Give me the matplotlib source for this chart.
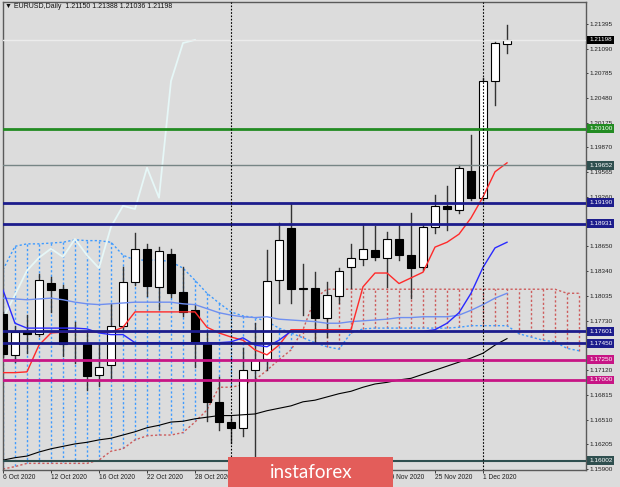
import numpy as np
import matplotlib
matplotlib.use("Agg")
import matplotlib.pyplot as plt
from matplotlib.patches import Rectangle
from matplotlib.transforms import blended_transform_factory

plt.rcParams['font.family'] = ['Liberation Sans', 'DejaVu Sans']

# EURUSD daily, 6 Oct 2020 .. 3 Dec 2020 (bar 0 = 6 Oct)
opens = [1.1781, 1.1731, 1.1759, 1.1757, 1.1820, 1.1812, 1.1745, 1.1744, 1.1706, 1.1718,
         1.1767, 1.1821, 1.1862, 1.1815, 1.1855, 1.1809, 1.1786, 1.1746, 1.1673, 1.1648,
         1.1641, 1.1712, 1.1726, 1.1823, 1.1888, 1.1812, 1.1814, 1.1776, 1.1804, 1.1839,
         1.1849, 1.1860, 1.1851, 1.1874, 1.1854, 1.1839, 1.1889, 1.1915, 1.1910, 1.1958,
         1.1925, 1.2069, 1.21150]
highs = [1.1784, 1.1767, 1.1780, 1.1831, 1.1827, 1.1817, 1.1772, 1.1758, 1.1744, 1.1794,
         1.1839, 1.1881, 1.1868, 1.1864, 1.1862, 1.1839, 1.1793, 1.1759, 1.1704, 1.1654,
         1.1739, 1.1770, 1.1860, 1.1894, 1.1919, 1.1843, 1.1833, 1.1821, 1.1838, 1.1868,
         1.1893, 1.1890, 1.1883, 1.1891, 1.1906, 1.1891, 1.1928, 1.1940, 1.1965, 1.2002,
         1.2073, 1.2117, 1.21388]
lows = [1.1728, 1.1722, 1.1733, 1.1754, 1.1784, 1.1730, 1.1721, 1.1688, 1.1692, 1.1702,
        1.1762, 1.1817, 1.1804, 1.1788, 1.1802, 1.1779, 1.1716, 1.1649, 1.1638, 1.1622,
        1.1631, 1.1605, 1.1712, 1.1795, 1.1795, 1.1780, 1.1746, 1.1753, 1.1795, 1.1814,
        1.1842, 1.1848, 1.1815, 1.1848, 1.1801, 1.1836, 1.1881, 1.1885, 1.1906, 1.1922,
        1.1922, 1.2040, 1.21036]
closes = [1.1732, 1.1759, 1.1757, 1.1823, 1.1811, 1.1744, 1.1746, 1.1705, 1.1716, 1.1767,
          1.1821, 1.1862, 1.1816, 1.1859, 1.1807, 1.1784, 1.1746, 1.1673, 1.1648, 1.1641,
          1.1712, 1.1725, 1.1822, 1.1873, 1.1812, 1.1814, 1.1776, 1.1805, 1.1835, 1.1851,
          1.1862, 1.1852, 1.1874, 1.1854, 1.1838, 1.1889, 1.1915, 1.1911, 1.1962, 1.1925,
          1.2069, 1.2116, 1.21198]

# Ichimoku lines
tenkan = [1.1709, 1.1709, 1.1710, 1.1743, 1.1758, 1.1759, 1.1759, 1.1759, 1.1759, 1.1759,
          1.1765, 1.1784, 1.1784, 1.1784, 1.1784, 1.1784, 1.1784, 1.1765, 1.1758, 1.1753,
          1.1749, 1.1737, 1.1731, 1.1743, 1.1762, 1.1762, 1.1762, 1.1762, 1.1762, 1.1762,
          1.1815, 1.1832, 1.1832, 1.1819, 1.1826, 1.1833, 1.1864, 1.1870, 1.1880, 1.1900,
          1.1926, 1.1957, 1.1968]
kijun = [1.1811, 1.1770, 1.1764, 1.1764, 1.1764, 1.1764, 1.1764, 1.1763, 1.1758, 1.1756,
         1.1756, 1.1746, 1.1746, 1.1746, 1.1746, 1.1746, 1.1746, 1.1746, 1.1746, 1.1747,
         1.1752, 1.1743, 1.1741, 1.1749, 1.1760, 1.1760, 1.1760, 1.1760, 1.1760, 1.1760,
         1.1760, 1.1760, 1.1760, 1.1760, 1.1760, 1.1760, 1.1762, 1.1770, 1.1783, 1.1807,
         1.1839, 1.1863, 1.1870]
span_a = [1.1836, 1.1865, 1.1868, 1.1868, 1.1869, 1.1870, 1.1873, 1.1872, 1.1872, 1.1870,
          1.1854, 1.1848, 1.1848, 1.1848, 1.1846, 1.1838, 1.1823, 1.1807, 1.1795, 1.1784,
          1.1779, 1.1777, 1.1772, 1.1764, 1.1758, 1.1752, 1.1746, 1.1741, 1.1738, 1.1758,
          1.1763, 1.1764, 1.1764, 1.1764, 1.1764, 1.1764, 1.1764, 1.1764, 1.1765, 1.1767,
          1.1767, 1.1767, 1.1767, 1.1757, 1.1753, 1.1749, 1.1747, 1.1739, 1.1736]
span_b = [1.1590, 1.1593, 1.1597, 1.1597, 1.1597, 1.1597, 1.1597, 1.1597, 1.1601, 1.1612,
          1.1615, 1.1626, 1.1631, 1.1632, 1.1632, 1.1635, 1.1648, 1.1663, 1.1691, 1.1691,
          1.1694, 1.1700, 1.1712, 1.1725, 1.1737, 1.1762, 1.1801, 1.1812, 1.1812, 1.1812,
          1.1812, 1.1812, 1.1812, 1.1812, 1.1812, 1.1812, 1.1812, 1.1812, 1.1812, 1.1812,
          1.1812, 1.1812, 1.1812, 1.1812, 1.1812, 1.1812, 1.1812, 1.1807, 1.1807]

# moving averages
ma_light = [1.1801, 1.1800, 1.1799, 1.1800, 1.1801, 1.1799, 1.1796, 1.1794, 1.1793, 1.1794,
            1.1795, 1.1796, 1.1796, 1.1796, 1.1796, 1.1794, 1.1793, 1.1788, 1.1783, 1.1780,
            1.1778, 1.1777, 1.1778, 1.1775, 1.1774, 1.1773, 1.1772, 1.1770, 1.1770, 1.1772,
            1.1773, 1.1774, 1.1775, 1.1777, 1.1777, 1.1778, 1.1778, 1.1778, 1.1780, 1.1786,
            1.1793, 1.1801, 1.1807]
ma_black = [1.1601, 1.1604, 1.1606, 1.1611, 1.1615, 1.1618, 1.1621, 1.1623, 1.1626, 1.1628,
            1.1632, 1.1636, 1.1641, 1.1644, 1.1648, 1.1649, 1.1652, 1.1654, 1.1656, 1.1656,
            1.1657, 1.1658, 1.1662, 1.1665, 1.1668, 1.1673, 1.1675, 1.1679, 1.1683, 1.1686,
            1.1691, 1.1695, 1.1697, 1.1700, 1.1702, 1.1707, 1.1712, 1.1717, 1.1722, 1.1727,
            1.1733, 1.1743, 1.1751]

# horizontal levels and price scale
levels = [1.20100, 1.19652, 1.19190, 1.18931, 1.17601, 1.17450, 1.17250, 1.17000, 1.16002]
bid = 1.21198
price_ticks = [1.21395, 1.21090, 1.20785, 1.20480, 1.20175, 1.19870, 1.19565, 1.19260,
               1.18650, 1.18340, 1.18035, 1.17730, 1.17120, 1.16815,
               1.16510, 1.16205, 1.15900]
date_pos = [0, 4, 8, 12, 16, 32, 36, 40]
date_labels = ['6 Oct 2020', '12 Oct 2020', '16 Oct 2020', '22 Oct 2020', '28 Oct 2020',
               '19 Nov 2020', '25 Nov 2020', '1 Dec 2020']
month_starts = [19, 40]

# styles
BG = '#dcdcdc'
CLOUD_BLUE = '#3f9bff'
CLOUD_RED = '#cd5c5c'
NAVY = '#1c1c8c'
MVR = '#c71585'
DSG = '#2f4f4f'
level_colors = ['#228b22', '#768585', NAVY, NAVY, NAVY, NAVY, MVR, MVR, DSG]
level_widths = [2, 1, 2, 2, 2, 2, 2, 2, 1.5]
label_colors = ['#228b22', DSG, NAVY, NAVY, NAVY, NAVY, MVR, MVR, DSG]

W, H = 620, 487
fig = plt.figure(figsize=(W / 100, H / 100), dpi=100)
fig.patch.set_facecolor(BG)
ax = fig.add_axes([2.5 / W, 1 - 470 / H, 583 / W, 467.5 / H])
ax.set_facecolor(BG)
ax.set_xlim(-0.04, 48.54)
ax.set_ylim(1.15888, 1.21660)

dash = (0, (1.6, 1.6))

# kumo as dotted verticals
for i in range(len(span_a)):
    a, b = span_a[i], span_b[i]
    ax.plot([i, i], [a, b], color=CLOUD_BLUE if a > b else CLOUD_RED,
            lw=1.0, ls=dash, zorder=2, solid_capstyle='butt', dash_capstyle='butt')
xs = np.arange(len(span_a))
ax.plot(xs, span_a, color=CLOUD_BLUE, lw=1.0, ls=dash, zorder=2)
ax.plot(xs, span_b, color=CLOUD_RED, lw=1.0, ls=dash, zorder=2)

# chikou = close shifted back 26 bars
ax.plot(np.arange(-1, len(closes) - 26), closes[25:], color='#e6f7f7', lw=1.3, zorder=2.5)

# candles
for i in range(len(closes)):
    o, hi, lo, c = opens[i], highs[i], lows[i], closes[i]
    ax.plot([i, i], [lo, hi], color='#333333', lw=1, zorder=3)
    ax.add_patch(Rectangle((i - 0.31, min(o, c)), 0.62, max(abs(c - o), 0.00004),
                           facecolor='white' if c >= o else 'black',
                           edgecolor='black', lw=0.8, zorder=3.1))

x = np.arange(len(closes))
ax.plot(x, ma_black, color='black', lw=0.8, zorder=4)
ax.plot(x, ma_light, color='#6f8ff0', lw=1, zorder=4)
ax.plot(x, tenkan, color='#ff2a2a', lw=1, zorder=4)
ax.plot(x, kijun, color='#2a2aff', lw=1, zorder=4)

# levels
ax.axhline(bid, color='#ececec', lw=1, zorder=4.5)
for lv, col, lw in zip(levels, level_colors, level_widths):
    ax.axhline(lv, color=col, lw=lw, zorder=5)
for m in month_starts:
    ax.axvline(m, color='black', lw=0.8, ls=(0, (1.5, 1.5)), zorder=5)

# axes look
for s in ax.spines.values():
    s.set_color('#5a5a5a')
    s.set_linewidth(1)
ax.yaxis.tick_right()
ax.set_yticks(price_ticks)
ax.set_yticklabels([f'{v:.5f}' for v in price_ticks])
ax.tick_params(axis='y', direction='out', length=1.5, width=0.6, pad=1.5,
               labelsize=4.6, colors='#202020')
ax.set_xticks(date_pos)
ax.set_xticklabels(date_labels, ha='left')
ax.tick_params(axis='x', direction='out', length=2, width=0.6, pad=1,
               labelsize=4.8, colors='#202020')

# price boxes on the scale
tr = blended_transform_factory(ax.transAxes, ax.transData)
lx = 1 + 3.5 / 583
ax.text(lx, bid, f'{bid:.5f}', transform=tr, ha='left', va='center', fontsize=4.6,
        color='white', clip_on=False, zorder=6,
        bbox=dict(boxstyle='square,pad=0.3', fc='black', ec='none'))
for lv, col in zip(levels, label_colors):
    ax.text(lx, lv, f'{lv:.5f}', transform=tr, ha='left', va='center', fontsize=4.6,
            color='white', clip_on=False, zorder=6,
            bbox=dict(boxstyle='square,pad=0.3', fc=col, ec='none'))

# header
ax.text(2.5 / 583, 1 - 4.5 / 467.5, '\u25bc EURUSD,Daily  1.21150 1.21388 1.21036 1.21198',
        transform=ax.transAxes, ha='left', va='center', fontsize=5, color='#101010',
        family=['Liberation Sans', 'DejaVu Sans'], zorder=6)

# watermark box
fig.add_artist(Rectangle((228 / W, 0), 165 / W, 30 / H, transform=fig.transFigure,
                         facecolor='#e35d5a', edgecolor='none', zorder=10))
fig.text(270 / W, 9 / H, 'instaforex', color='white', fontsize=13.5, family='Lato',
         ha='left', va='baseline', zorder=11)

fig.savefig('out.png', dpi=100, facecolor=BG)
